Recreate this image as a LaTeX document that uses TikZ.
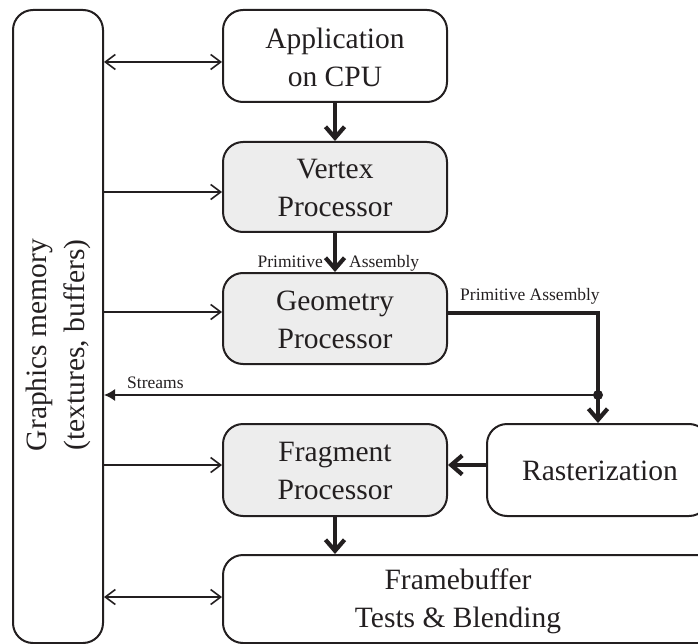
\documentclass[tikz,border=0pt]{standalone}
\usepackage{fontspec}
\setmainfont{Liberation Serif}
\usetikzlibrary{arrows.meta}
\definecolor{ink}{HTML}{231F20}
\definecolor{procfill}{HTML}{EDEDED}
\begin{document}
\begin{tikzpicture}[x=1pt,y=-1pt,
  box/.style={draw=ink, line width=2pt, rounded corners=20pt, inner sep=0pt},
  procbox/.style={box, fill=procfill},
  bigtxt/.style={font=\fontsize{29.5}{38}\selectfont, align=center, text=ink, inner sep=0pt},
  smalltxt/.style={font=\fontsize{17.5}{20}\selectfont, text=ink, inner sep=0pt},
  memarrow/.style={draw=ink, line width=1.6pt, -{Straight Barb[length=10pt,width=15pt]}},
  memboth/.style={draw=ink, line width=1.6pt, {Straight Barb[length=10pt,width=15pt]}-{Straight Barb[length=10pt,width=15pt]}},
  flowarrow/.style={draw=ink, line width=4.2pt, -{Straight Barb[length=11pt,width=19pt]}},
  streamarrow/.style={draw=ink, line width=1.6pt, -{Latex[length=11pt,width=12pt]}}
]
\useasboundingbox (0,0) rectangle (698,644);
\clip (0,0) rectangle (698,644);

% boxes
\node[box, minimum width=90pt, minimum height=633pt] (mem) at (58,326.5) {};
\node[box, minimum width=224pt, minimum height=92pt] (app) at (335,56) {};
\node[procbox, minimum width=224pt, minimum height=90pt] (vert) at (335,187) {};
\node[procbox, minimum width=224pt, minimum height=91pt] (geom) at (335,318.5) {};
\node[procbox, minimum width=224pt, minimum height=92pt] (frag) at (335,470) {};
\node[box, minimum width=222pt, minimum height=92pt] (rast) at (598,470) {};
\node[box, minimum width=507pt, minimum height=88pt] (fb) at (476.5,599) {};

% texts
\node[bigtxt, rotate=90] (memtxt) at (58,345) {Graphics memory\\(textures, buffers)};
\node[bigtxt] (apptxt) at (335,57) {Application\\on CPU};
\node[bigtxt] (verttxt) at (335,188) {Vertex\\Processor};
\node[bigtxt] (geomtxt) at (335,319.5) {Geometry\\Processor};
\node[bigtxt] (fragtxt) at (335,471) {Fragment\\Processor};
\node[bigtxt] (rasttxt) at (600,471) {Rasterization};
\node[bigtxt] (fbtxt) at (458,601) {Framebuffer\\Tests \& Blending};

\node[smalltxt, anchor=base east] (prim1) at (323,267) {Primitive};
\node[smalltxt, anchor=base west] (asm1) at (349,267) {Assembly};
\node[smalltxt, anchor=base west] (prim2) at (460,300) {Primitive Assembly};
\node[smalltxt, anchor=base west] (streams) at (127,388) {Streams};

% memory connectors
\draw[memboth] (mem.east |- 0,62) -- (app.west |- 0,62);
\draw[memarrow] (mem.east |- 0,192) -- (vert.west |- 0,192);
\draw[memarrow] (mem.east |- 0,312) -- (geom.west |- 0,312);
\draw[memarrow] (mem.east |- 0,465) -- (frag.west |- 0,465);
\draw[memboth] (mem.east |- 0,597) -- (fb.west |- 0,597);

% pipeline flow
\coordinate (j) at (598,395);
\draw[flowarrow] (app.south) -- (vert.north);
\draw[flowarrow] (vert.south) -- (geom.north);
\draw[flowarrow, -] (geom.east |- 0,313) -| (j);
\draw[flowarrow] (j) -- (rast.north);
\draw[streamarrow] (j) -- (mem.east |- j);
\fill[ink] (j) circle (5pt);
\draw[flowarrow] (rast.west |- 0,465) -- (frag.east |- 0,465);
\draw[flowarrow] (frag.south) -- (frag.south |- fb.north);
\end{tikzpicture}
\end{document}
